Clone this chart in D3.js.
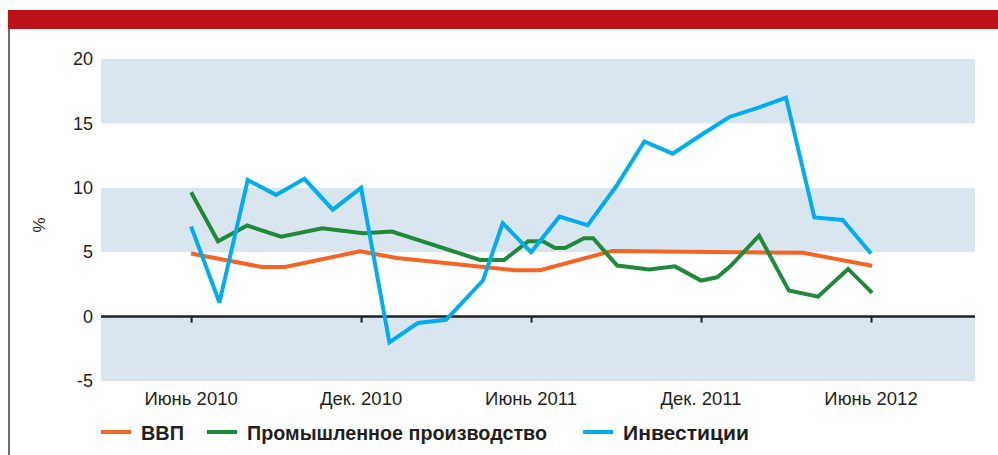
<!DOCTYPE html>
<html><head><meta charset="utf-8">
<script src="https://cdn.jsdelivr.net/npm/d3@7"></script>
<style>
body{margin:0;background:#fff;}
svg{display:block;font-family:"Liberation Sans",Arial,sans-serif;}
</style></head>
<body><svg id="c" width="998" height="455"></svg>
<script>
// Month offsets from June 2010
const xTickMonths = [0, 6, 12, 18, 24];
const xTickLabels = ["Июнь 2010", "Дек. 2010", "Июнь 2011", "Дек. 2011", "Июнь 2012"];
const yTicks = [-5, 0, 5, 10, 15, 20];
const seriesNames = ["ВВП", "Промышленное производство", "Инвестиции"];
const seriesColors = ["#f26522", "#1f8a3b", "#00aeef"];

const gdpX = [0, 2.5, 3.32, 5.96, 7.27, 11.43, 12.32, 14.86, 21.6, 24.04];
const gdpY = [4.9, 3.85, 3.85, 5.07, 4.55, 3.6, 3.6, 5.1, 4.95, 3.95];

const indX = [0, 0.95, 1.98, 3.18, 4.63, 6.07, 7.09, 10.2, 11.05, 11.9, 12.42, 12.84, 13.2, 13.87, 14.19, 15.04, 16.17, 17.08, 18.0, 18.57, 19.03, 20.05, 21.1, 22.13, 23.19, 24.04];
const indY = [9.65, 5.85, 7.07, 6.2, 6.86, 6.47, 6.6, 4.4, 4.4, 5.85, 5.85, 5.33, 5.33, 6.08, 6.08, 3.96, 3.65, 3.9, 2.8, 3.05, 3.9, 6.29, 2.02, 1.55, 3.7, 1.84];

const invX = [0, 1, 2, 3, 4, 5, 6, 7, 8, 9, 10.3, 11, 12, 13, 14, 15, 16, 17, 18, 19, 20, 21, 22, 23, 24];
const invY = [7.0, 1.1, 10.6, 9.45, 10.7, 8.3, 10.0, -2.0, -0.5, -0.25, 2.8, 7.25, 5.0, 7.76, 7.1, 10.1, 13.6, 12.65, 14.1, 15.5, 16.2, 17.0, 7.7, 7.5, 4.9];

const svg = d3.select("#c");

// frame
svg.append("rect").attr("x", 8).attr("y", 10).attr("width", 990).attr("height", 19).attr("fill", "#bc1019");
svg.append("rect").attr("x", 8).attr("y", 29).attr("width", 2).attr("height", 426).attr("fill", "#6d6e70");

const left = 101, right = 975;
const x = d3.scaleLinear().domain([-3.18, 27.67]).range([left, right]);
const y = d3.scaleLinear().domain([-5, 20]).range([381, 59]);

// bands
const bands = [[15, 20], [5, 10], [-5, 0]];
svg.append("g").selectAll("rect").data(bands).join("rect")
  .attr("x", left).attr("width", right - left)
  .attr("y", d => y(d[1])).attr("height", d => y(d[0]) - y(d[1]))
  .attr("fill", "#dae6ef");

// y axis labels
const yAxis = d3.axisLeft(y).tickValues(yTicks).tickSize(0).tickPadding(8).tickFormat(d => String(d));
const gy = svg.append("g").attr("transform", `translate(${left},0)`).call(yAxis);
gy.select(".domain").remove();
gy.selectAll("text").attr("font-size", 18).attr("fill", "#231f20");

svg.append("text").attr("transform", "translate(45,225) rotate(-90)")
  .attr("text-anchor", "middle").attr("font-size", 17).attr("fill", "#231f20").text("%");

// zero line + ticks
const xAxis = d3.axisBottom(x).tickValues(xTickMonths).tickSize(6).tickFormat("");
const gx = svg.append("g").attr("transform", `translate(0,${y(0)})`).call(xAxis);
gx.select(".domain").attr("d", `M${left},0H${right}`).attr("stroke", "#231f20").attr("stroke-width", 2.5);
gx.selectAll(".tick line").attr("stroke", "#231f20").attr("stroke-width", 2);

svg.append("g").selectAll("text").data(xTickMonths).join("text")
  .attr("x", d => x(d)).attr("y", 405)
  .attr("text-anchor", "middle").attr("font-size", 18.5).attr("fill", "#231f20")
  .text((d, i) => xTickLabels[i]);

// lines
const series = [
  { xs: gdpX, ys: gdpY },
  { xs: indX, ys: indY },
  { xs: invX, ys: invY }
];
const line = d3.line().x(d => x(d[0])).y(d => y(d[1]));
series.forEach((s, i) => {
  const pts = s.xs.map((v, j) => [v, s.ys[j]]);
  svg.append("path").datum(pts).attr("d", line)
    .attr("fill", "none").attr("stroke", seriesColors[i])
    .attr("stroke-width", 4).attr("stroke-linejoin", "miter").attr("stroke-miterlimit", 3);
});

// legend
const legX = [101, 207, 583];
const legW = [43, 300, 126];
const leg = svg.append("g");
seriesNames.forEach((n, i) => {
  leg.append("rect").attr("x", legX[i]).attr("y", 430).attr("width", 30).attr("height", 4).attr("fill", seriesColors[i]);
  leg.append("text").attr("x", legX[i] + 40).attr("y", 440)
    .attr("font-size", 20).attr("font-weight", "bold").attr("fill", "#231f20")
    .attr("textLength", legW[i]).attr("lengthAdjust", "spacingAndGlyphs").text(n);
});
</script></body></html>
